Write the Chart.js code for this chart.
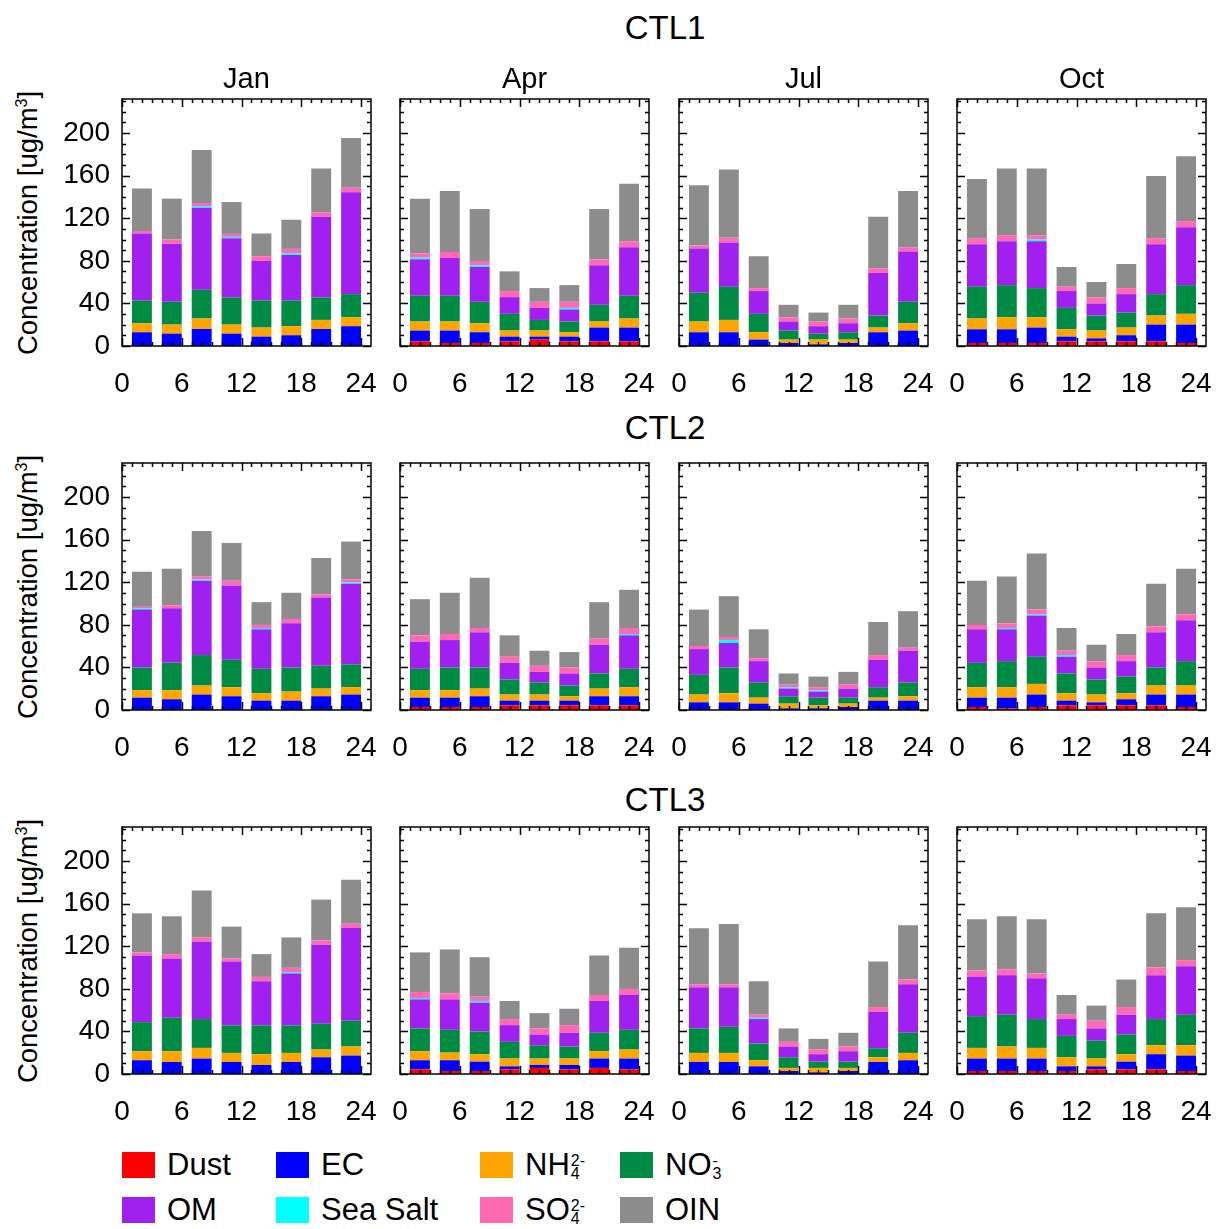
<!DOCTYPE html>
<html>
<head>
<meta charset="utf-8">
<script src="https://cdn.jsdelivr.net/npm/chart.js@4.4.1/dist/chart.umd.min.js"></script>
<style>
  body { margin: 0; background: #fff; }
  #page { position: relative; width: 1221px; height: 1229px; overflow: hidden; font-family: "Liberation Sans", Arial, sans-serif; color: #000; }
  #page canvas { position: absolute; }
  .lbl { position: absolute; white-space: nowrap; transform: translate(-50%, -50%); }
  .ytitle { position: absolute; white-space: nowrap; font-size: 27.5px; transform: translate(-50%, -50%) rotate(-90deg); }
  .ytitle sup { font-size: 16px; }
  .leg { position: absolute; font-size: 31px; line-height: 31px; }
  .leg .box { position: absolute; width: 33px; height: 26px; top: -13px; }
  .leg .txt { position: absolute; left: 45px; top: -16px; white-space: nowrap; }
  .ss { display: inline-block; vertical-align: middle; line-height: 13px; font-size: 16px; margin-left: 1px; }
  .ss span { display: block; }
</style>
</head>
<body>
<div id="page"></div>
<script>
// hours of the 3-hourly bars
const hours = [2, 5, 8, 11, 14, 17, 20, 23];
const runs = ['CTL1', 'CTL2', 'CTL3'];
const months = ['Jan', 'Apr', 'Jul', 'Oct'];
const xTicks = [0, 6, 12, 18, 24];
const yTicks = [0, 40, 80, 120, 160, 200];

// rows: CTL1 Jan, Apr, Jul, Oct, CTL2 Jan..Oct, CTL3 Jan..Oct
const dust = [
  [0, 0, 0, 0, 0, 0, 0, 0],
  [4.4, 2.8, 2.8, 4.4, 6.0, 4.4, 4.4, 4.4],
  [0, 0, 0, 0, 0, 0, 0, 0],
  [2.8, 2.8, 2.8, 4.4, 4.4, 4.4, 4.4, 2.8],
  [0, 0, 0, 0, 0, 0, 0, 0],
  [2.8, 2.8, 2.8, 4.4, 4.4, 4.4, 4.4, 4.4],
  [0, 0, 0, 0, 0, 0, 0, 0],
  [2.8, 1.6, 2.8, 4.4, 4.4, 4.4, 4.4, 2.8],
  [0, 0, 0, 0, 0, 0, 0, 0],
  [4.4, 2.8, 2.8, 4.4, 5.7, 4.4, 5.7, 4.4],
  [0, 0, 0, 0, 0, 0, 0, 0],
  [2.8, 2.8, 2.8, 2.8, 4.4, 4.4, 4.4, 2.8]
];
const ec = [
  [12.9, 11.6, 16.0, 11.6, 8.8, 10.1, 16.0, 18.6],
  [10.1, 11.7, 10.1, 4.4, 2.8, 4.4, 12.9, 12.9],
  [12.9, 12.9, 6.0, 2.8, 1.6, 2.8, 12.9, 14.5],
  [12.9, 12.9, 14.5, 4.4, 2.8, 5.7, 15.7, 17.3],
  [11.6, 10.1, 14.5, 12.9, 8.8, 8.8, 12.9, 14.5],
  [8.8, 8.8, 10.1, 4.4, 4.4, 4.4, 8.5, 8.5],
  [7.2, 7.2, 6.0, 1.6, 1.6, 2.8, 8.8, 8.8],
  [8.8, 10.0, 11.7, 4.4, 2.8, 5.7, 10.1, 11.7],
  [12.9, 11.3, 14.5, 11.3, 8.5, 11.3, 15.7, 17.3],
  [8.5, 10.1, 8.8, 2.8, 2.8, 4.1, 8.8, 10.1],
  [11.3, 11.3, 7.2, 2.8, 1.6, 2.8, 11.3, 12.9],
  [11.7, 11.7, 11.7, 4.4, 2.8, 7.2, 14.2, 14.5]
];
const nh4 = [
  [8.5, 8.5, 9.8, 8.5, 8.5, 8.5, 8.5, 8.4],
  [8.5, 8.5, 8.5, 5.7, 5.7, 4.1, 5.7, 8.5],
  [10.1, 11.6, 6.9, 3.2, 4.4, 3.2, 4.4, 6.9],
  [10.1, 11.3, 9.7, 6.9, 7.3, 7.2, 8.5, 10.1],
  [7.0, 8.5, 8.5, 8.5, 6.9, 8.5, 7.2, 6.9],
  [7.0, 7.0, 7.2, 5.7, 5.7, 4.1, 7.2, 8.5],
  [7.3, 8.5, 5.6, 4.4, 2.8, 3.2, 2.8, 4.1],
  [9.8, 9.8, 10.0, 6.9, 7.3, 5.6, 8.5, 8.5],
  [8.5, 10.1, 10.0, 8.5, 10.1, 8.5, 7.3, 8.5],
  [8.5, 7.2, 7.0, 7.3, 6.0, 6.0, 6.9, 8.5],
  [8.5, 8.5, 5.7, 2.9, 4.1, 2.9, 4.4, 6.9],
  [10.0, 11.3, 10.0, 8.5, 7.3, 7.0, 8.4, 9.7]
];
const no3 = [
  [21.4, 21.4, 27.0, 25.5, 25.5, 24.2, 21.1, 21.7],
  [24.2, 24.2, 20.1, 15.7, 10.0, 10.1, 15.7, 21.4],
  [27.0, 31.2, 17.3, 8.5, 5.6, 6.9, 11.3, 20.1],
  [29.9, 30.2, 27.4, 20.1, 14.1, 14.1, 20.1, 27.0],
  [21.3, 25.7, 28.6, 25.8, 23.0, 22.6, 21.4, 21.4],
  [20.1, 21.3, 19.8, 14.1, 11.3, 10.1, 14.2, 17.3],
  [18.5, 24.2, 14.2, 6.9, 7.2, 5.6, 9.8, 12.9],
  [22.9, 24.5, 25.5, 18.6, 14.1, 15.7, 16.9, 22.9],
  [27.3, 31.4, 27.1, 25.8, 27.0, 25.8, 24.2, 24.2],
  [21.4, 21.4, 21.3, 15.7, 12.5, 11.3, 17.3, 18.5],
  [23.0, 24.5, 15.7, 10.0, 5.9, 5.9, 8.5, 18.9],
  [29.9, 29.9, 27.1, 20.1, 16.9, 18.5, 24.6, 28.7]
];
const om = [
  [62.9, 54.4, 77.1, 55.7, 37.1, 42.7, 75.8, 95.6],
  [34.2, 35.5, 32.7, 15.7, 11.3, 11.3, 37.1, 45.6],
  [41.5, 41.5, 21.4, 8.5, 7.0, 8.5, 40.0, 47.2],
  [39.9, 41.2, 44.0, 15.8, 11.3, 17.3, 46.9, 54.4],
  [54.4, 51.3, 69.8, 69.8, 37.1, 41.5, 64.2, 75.8],
  [25.5, 25.8, 33.1, 15.7, 10.0, 11.3, 27.0, 31.4],
  [24.2, 23.0, 20.1, 7.2, 5.7, 8.5, 25.8, 29.9],
  [31.5, 29.9, 38.7, 15.7, 11.3, 14.5, 33.1, 38.4],
  [62.6, 55.7, 72.6, 60.1, 41.5, 48.7, 74.2, 87.1],
  [27.3, 28.6, 27.1, 15.7, 10.1, 12.9, 29.9, 32.7],
  [38.6, 37.1, 23.0, 10.1, 7.0, 9.8, 34.3, 45.6],
  [37.1, 37.1, 38.3, 15.8, 11.4, 18.6, 41.2, 45.6]
];
const seaSalt = [
  [0, 0, 1.5, 1.2, 0, 1.6, 0, 0],
  [1.6, 0, 1.6, 0, 0, 1.5, 0, 0],
  [0, 0, 0, 0, 0, 0, 0, 0],
  [0, 0, 1.6, 0, 0, 0, 0, 0],
  [1.3, 0, 1.2, 0, 1.2, 0, 0, 1.2],
  [0, 0, 0, 0, 0, 0, 0, 1.3],
  [0, 2.8, 0, 1.3, 1.3, 0, 0, 0],
  [0, 1.2, 1.2, 1.6, 0, 0, 0, 0],
  [0, 0, 0, 0, 0, 1.3, 0, 0],
  [1.3, 0, 1.6, 0, 0, 0, 0, 0],
  [0, 0, 1.2, 0, 0, 0, 0, 0],
  [0, 0, 0, 0, 0, 0, 0, 0]
];
const so4 = [
  [2.4, 4.1, 2.9, 2.8, 4.4, 4.1, 4.1, 4.4],
  [4.1, 5.7, 4.1, 5.7, 5.7, 5.7, 5.6, 5.6],
  [2.8, 4.4, 2.8, 4.0, 4.4, 4.4, 4.4, 4.1],
  [5.7, 5.7, 4.1, 4.1, 5.7, 5.7, 5.7, 5.7],
  [1.3, 2.8, 2.9, 4.4, 2.9, 4.1, 2.8, 2.8],
  [5.9, 5.7, 4.0, 5.7, 5.7, 5.6, 5.7, 5.6],
  [2.9, 2.9, 2.8, 2.8, 2.8, 4.1, 4.4, 2.8],
  [4.1, 4.4, 4.4, 4.1, 5.7, 5.7, 5.6, 5.6],
  [2.9, 4.1, 4.1, 2.8, 4.1, 4.1, 4.1, 4.1],
  [5.6, 5.7, 4.0, 5.7, 5.7, 7.2, 5.6, 5.7],
  [2.9, 2.9, 2.9, 4.4, 4.4, 4.4, 4.4, 4.4],
  [5.7, 5.6, 4.4, 4.1, 7.2, 7.2, 7.2, 5.6]
];
const oin = [
  [39.9, 38.4, 49.7, 29.9, 21.4, 27.4, 41.2, 46.6],
  [51.3, 57.2, 48.7, 18.5, 12.9, 15.7, 47.2, 54.1],
  [56.6, 64.1, 29.9, 11.7, 8.4, 12.9, 48.4, 52.8],
  [55.6, 62.6, 62.6, 18.5, 14.5, 22.6, 58.4, 61.0],
  [33.0, 34.3, 42.7, 35.5, 21.4, 24.6, 34.3, 35.6],
  [34.0, 38.7, 47.2, 20.1, 14.2, 14.5, 34.3, 35.9],
  [34.2, 38.3, 27.1, 10.1, 10.0, 11.6, 31.1, 34.3],
  [41.5, 44.1, 52.6, 21.3, 15.7, 19.8, 40.0, 42.8],
  [36.7, 35.5, 44.0, 29.9, 21.4, 28.6, 38.3, 41.2],
  [37.2, 41.2, 37.1, 17.0, 14.4, 15.4, 37.1, 38.7],
  [52.5, 56.6, 31.4, 12.6, 10.0, 12.9, 42.8, 50.9],
  [48.1, 49.7, 51.0, 18.5, 14.2, 25.8, 50.9, 49.7]
];

const species = [
  { name: 'Dust', html: 'Dust', color: '#ff0000', vals: dust },
  { name: 'EC', html: 'EC', color: '#0000ff', vals: ec },
  { name: 'NH4', html: 'NH<span class="ss"><span>2-</span><span>4</span></span>', color: '#ffa500', vals: nh4 },
  { name: 'NO3', html: 'NO<span class="ss"><span>-</span><span>3</span></span>', color: '#008b45', vals: no3 },
  { name: 'OM', html: 'OM', color: '#a020f0', vals: om },
  { name: 'Sea Salt', html: 'Sea Salt', color: '#00ffff', vals: seaSalt },
  { name: 'SO4', html: 'SO<span class="ss"><span>2-</span><span>4</span></span>', color: '#ff69b4', vals: so4 },
  { name: 'OIN', html: 'OIN', color: '#8c8c8c', vals: oin }
];

// layout of the 4x3 panel grid (plot area boxes)
const colLeft = [122, 400, 679, 957];
const rowTop = [99, 463, 827];
const runTitleY = [28, 428, 800];
const W = 249, H = 247;
const padL = 80, padT = 10, padR = 30, padB = 60;
const FONT = '"Liberation Sans", Arial, sans-serif';

const page = document.getElementById('page');

function addLabel(text, x, y, size) {
  const d = document.createElement('div');
  d.className = 'lbl';
  d.style.left = x + 'px';
  d.style.top = y + 'px';
  d.style.fontSize = size + 'px';
  d.textContent = text;
  page.appendChild(d);
}

// frame and inward tick marks, drawn on all four sides
const frame = {
  id: 'frame',
  afterDraw(chart) {
    const { ctx, chartArea: a, scales } = chart;
    const xs = scales.x, ys = scales.y;
    ctx.save();
    ctx.strokeStyle = '#000';
    ctx.lineWidth = 1.5;
    ctx.beginPath();
    for (let v = 0; v <= 24; v += 1) {
      const px = Math.round(xs.getPixelForValue(v)) + 0.5;
      const len = v % 6 === 0 ? 8 : 4;
      ctx.moveTo(px, a.bottom); ctx.lineTo(px, a.bottom - len);
      ctx.moveTo(px, a.top); ctx.lineTo(px, a.top + len);
    }
    for (let v = 0; v <= 230; v += 10) {
      const py = Math.round(ys.getPixelForValue(v)) + 0.5;
      const len = v % 40 === 0 ? 8 : 4;
      ctx.moveTo(a.left, py); ctx.lineTo(a.left + len, py);
      ctx.moveTo(a.right, py); ctx.lineTo(a.right - len, py);
    }
    ctx.stroke();
    ctx.strokeRect(a.left, a.top, a.right - a.left, a.bottom - a.top);
    ctx.restore();
  }
};

function makePanel(r, c) {
  const idx = r * 4 + c;
  const cv = document.createElement('canvas');
  cv.width = W + padL + padR;
  cv.height = H + padT + padB;
  cv.style.left = (colLeft[c] - padL) + 'px';
  cv.style.top = (rowTop[r] - padT) + 'px';
  page.appendChild(cv);

  const datasets = species.map(s => ({
    label: s.name,
    data: hours.map((h, i) => ({ x: h, y: s.vals[idx][i] })),
    backgroundColor: s.color,
    borderWidth: 0,
    barPercentage: 2 / 3,
    categoryPercentage: 1
  }));

  new Chart(cv, {
    type: 'bar',
    data: { datasets: datasets },
    options: {
      responsive: false,
      animation: false,
      events: [],
      layout: { padding: { top: padT, right: padR, left: 0, bottom: 0 } },
      plugins: { legend: { display: false }, tooltip: { enabled: false } },
      scales: {
        x: {
          type: 'linear', stacked: true, min: 0, max: 25, offset: false,
          grid: { display: false, drawTicks: false },
          border: { display: false },
          afterBuildTicks: s => { s.ticks = xTicks.map(v => ({ value: v })); },
          afterFit: s => { s.height = padB; s.paddingLeft = 0; s.paddingRight = 0; },
          ticks: { color: '#000', padding: 21, maxRotation: 0, autoSkip: false, font: { family: FONT, size: 28 } }
        },
        y: {
          type: 'linear', stacked: true, min: 0, max: 232,
          grid: { display: false, drawTicks: false },
          border: { display: false },
          afterBuildTicks: s => { s.ticks = yTicks.map(v => ({ value: v })); },
          afterFit: s => { s.width = padL; s.paddingTop = 0; s.paddingBottom = 0; },
          ticks: { display: c === 0, color: '#000', padding: 12, font: { family: FONT, size: 28 } }
        }
      }
    },
    plugins: [frame]
  });
}

runs.forEach((run, r) => {
  addLabel(run, 665, runTitleY[r], 33);
  const yt = document.createElement('div');
  yt.className = 'ytitle';
  yt.style.left = '28px';
  yt.style.top = (rowTop[r] + H / 2) + 'px';
  yt.innerHTML = 'Concentration [ug/m<sup>3</sup>]';
  page.appendChild(yt);
  months.forEach((m, c) => makePanel(r, c));
});
months.forEach((m, c) => addLabel(m, colLeft[c] + W / 2, 78, 29));

// legend, two rows of four
const legX = [122, 276, 480, 620];
const legY = [1165, 1210];
species.forEach((s, k) => {
  const d = document.createElement('div');
  d.className = 'leg';
  d.style.left = legX[k % 4] + 'px';
  d.style.top = legY[Math.floor(k / 4)] + 'px';
  d.innerHTML = '<div class="box" style="background:' + s.color + '"></div><div class="txt">' + s.html + '</div>';
  page.appendChild(d);
});
</script>
</body>
</html>
